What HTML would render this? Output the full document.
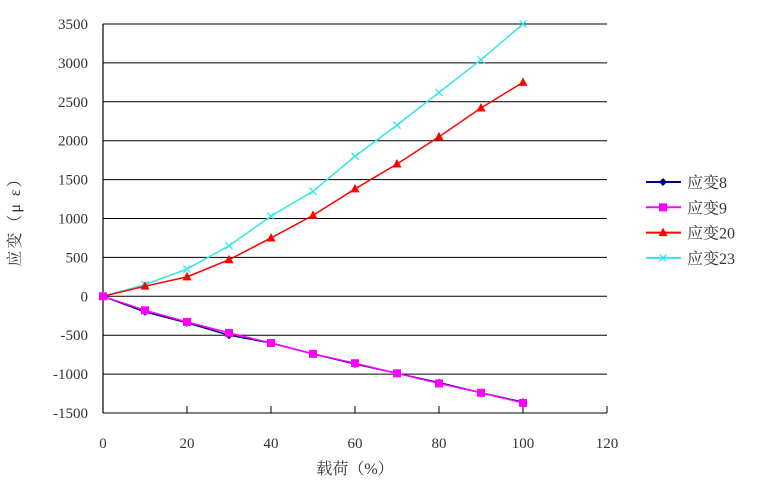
<!DOCTYPE html>
<html><head><meta charset="utf-8"><style>
body{margin:0;background:#fff;}
svg text{font-family:"Liberation Serif","Noto Serif CJK SC",serif;fill:#333;}
</style></head><body>
<svg id="c" width="760" height="489"></svg>
<script>
const xValues=[0,10,20,30,40,50,60,70,80,90,100];
const s8=[0,-200,-340,-500,-600,-740,-870,-990,-1110,-1240,-1360];
const s9=[0,-180,-330,-470,-600,-740,-860,-990,-1120,-1240,-1370];
const s20=[0,130,250,470,750,1040,1380,1700,2050,2420,2750];
const s23=[0,150,350,650,1030,1350,1800,2200,2620,3040,3500];
const xTicks=[0,20,40,60,80,100,120];
const yTicks=[3500,3000,2500,2000,1500,1000,500,0,-500,-1000,-1500];
const seriesNames=["应变8","应变9","应变20","应变23"];
const NS="http://www.w3.org/2000/svg";
const svg=document.getElementById('c');
const X0=103,X1=607,Y0=413,Y1=24;
const xs=v=>X0+(v-0)/(120-0)*(X1-X0);
const ys=v=>Y0-(v+1500)/5000*(Y0-Y1);
function mk(t,a,p){const e=document.createElementNS(NS,t);for(const k in a)e.setAttribute(k,a[k]);(p||svg).appendChild(e);return e;}
yTicks.forEach(v=>{
  const l=mk('line',{x1:X0,x2:X1,y1:ys(v),y2:ys(v),stroke:'#000','stroke-width':1});
  
  
  const t=mk('text',{x:X0-15,y:ys(v)+5,'text-anchor':'end','font-size':15});
  t.textContent=v;
  
  
});
const ax=mk('line',{x1:X0,x2:X0,y1:Y1,y2:Y0,stroke:'#000','stroke-width':1.2});


xTicks.forEach(v=>{
  const tk=mk('line',{x1:xs(v),x2:xs(v),y1:Y0,y2:Y0-7,stroke:'#000'});
  
  
  const t=mk('text',{x:xs(v),y:Y0+35,'text-anchor':'middle','font-size':15});
  t.textContent=v;
  
  
});
const xt=mk('text',{x:355,y:474,'text-anchor':'middle','font-size':16});
xt.textContent='载荷（%）';


const yt=mk('text',{x:20,y:218,'text-anchor':'middle','font-size':16,'letter-spacing':2,transform:'rotate(-90 20 218)'});
yt.textContent='应变（μ ε）';


function marker(type,x,y,col,g){
  let m;
  if(type==='d')m=mk('polygon',{points:`${x},${y-4} ${x+4},${y} ${x},${y+4} ${x-4},${y}`,fill:col},g);
  else if(type==='s')m=mk('rect',{x:x-4,y:y-4,width:8,height:8,fill:col},g);
  else if(type==='t')m=mk('polygon',{points:`${x},${y-5} ${x+4.5},${y+3.5} ${x-4.5},${y+3.5}`,fill:col},g);
  else {m=mk('path',{d:`M${x-3.5} ${y-3.5}L${x+3.5} ${y+3.5}M${x+3.5} ${y-3.5}L${x-3.5} ${y+3.5}`,stroke:col,'stroke-width':1.3},g);}
  
  
}
const series=[[s23,'#33e6e6','x'],[s20,'#ff0000','t'],[s8,'#000080','d'],[s9,'#ff00ff','s']];
const legendOrder=[[s8,'#000080','d'],[s9,'#ff00ff','s'],[s20,'#ff0000','t'],[s23,'#33e6e6','x']];
series.forEach(([d,col,m])=>{
  const g=mk('g',{});
  
  
  mk('polyline',{points:d.map((v,i)=>xs(xValues[i])+','+ys(v)).join(' '),fill:'none',stroke:col,'stroke-width':1.5},g);
  d.forEach((v,i)=>marker(m,xs(xValues[i]),ys(v),col,g));
});
legendOrder.forEach(([d,col,m],i)=>{
  const y=182+i*25.3;
  const g=mk('g',{});
  
  
  mk('line',{x1:646,x2:681,y1:y,y2:y,stroke:col,'stroke-width':2},g);
  marker(m,663,y,col,g);
  const t=mk('text',{x:687,y:y+6,'font-size':16},g);
  t.textContent=seriesNames[i];
});
</script>
</body></html>
